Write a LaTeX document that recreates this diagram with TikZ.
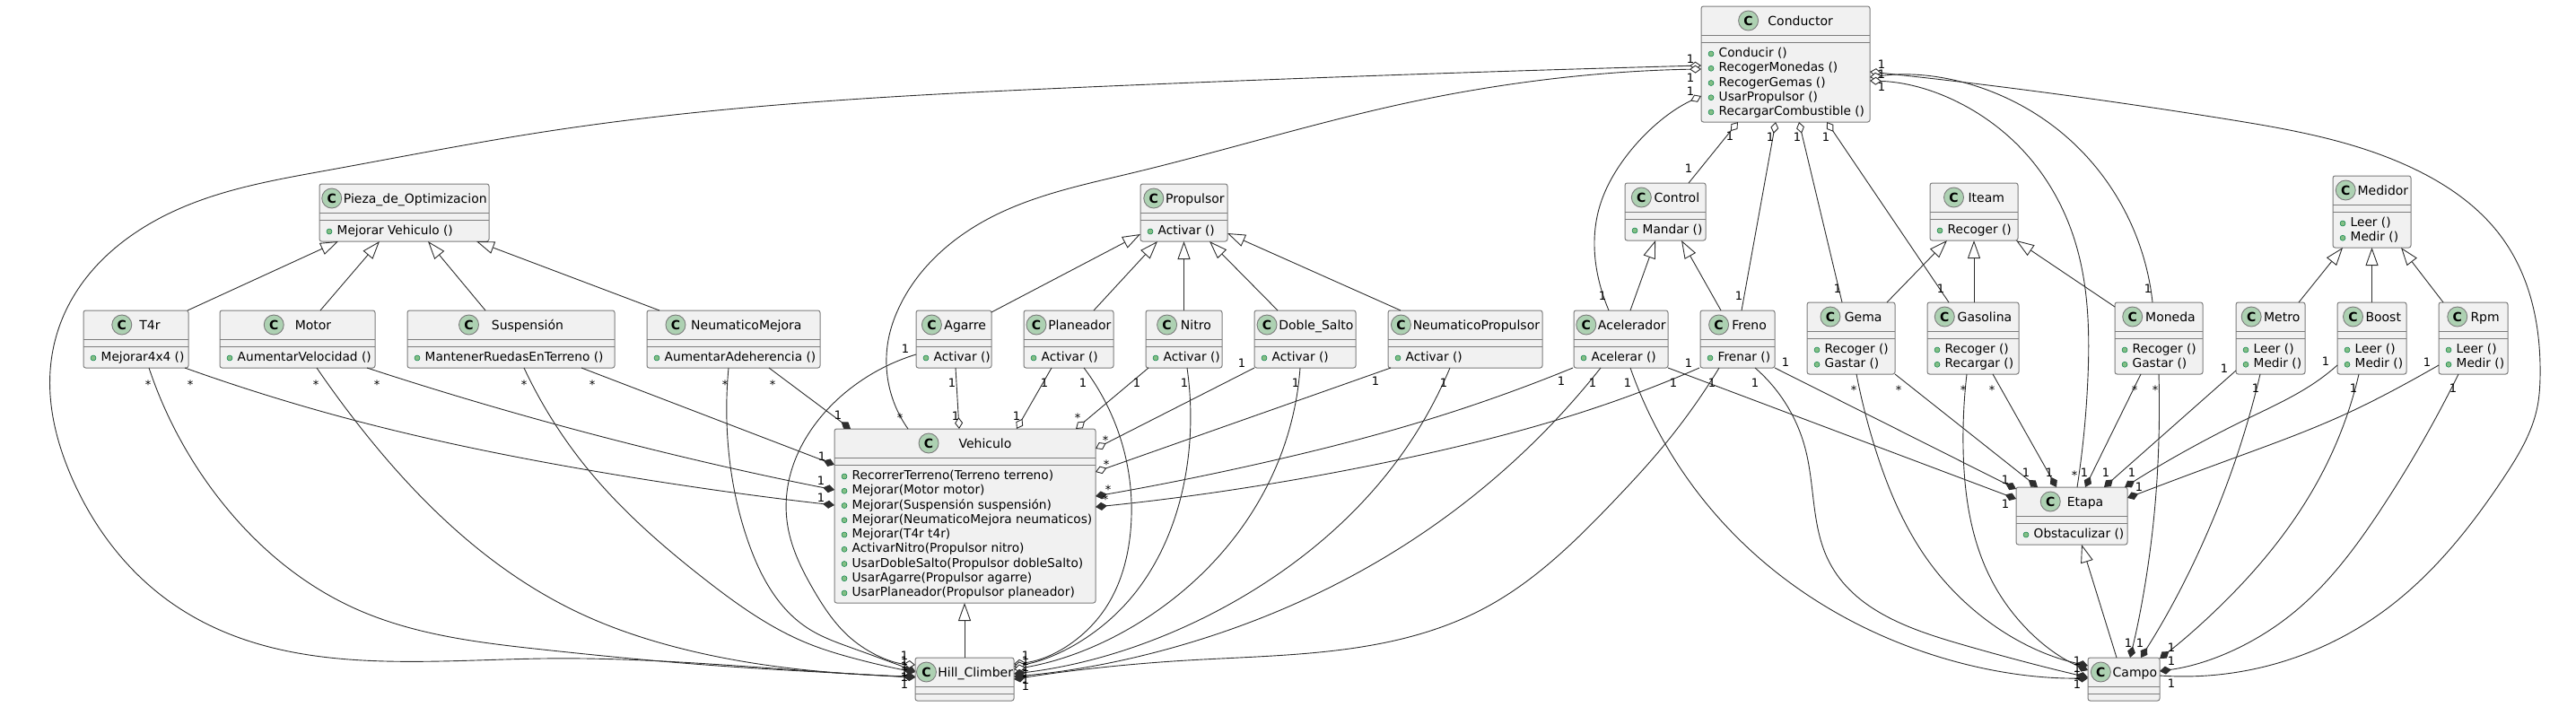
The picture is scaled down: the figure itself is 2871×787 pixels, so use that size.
\documentclass[tikz,border=0pt]{standalone}
\usepackage{fontspec}
\setmainfont{DejaVu Sans}
\usetikzlibrary{arrows.meta,positioning,hobby}

\definecolor{umlfill}{HTML}{F1F1F1}
\definecolor{umlline}{HTML}{7C7C7C}
\definecolor{umledge}{HTML}{2E2E2E}
\definecolor{umlbadgefill}{HTML}{ADD1B2}
\definecolor{umldotfill}{HTML}{84BE84}
\definecolor{umldotline}{HTML}{038048}

\tikzset{
  umlbox/.style={draw=umlline,fill=umlfill,line width=1pt,rounded corners=2.5pt,inner sep=0pt,outer sep=0pt},
  umlrule/.style={draw=umlline,line width=1pt},
  umlbadge/.style={circle,draw=umlline,fill=umlbadgefill,line width=0.9pt,minimum size=22pt,inner sep=0pt,font=\fontsize{14}{14}\selectfont\bfseries},
  umltitle/.style={inner sep=0pt,outer sep=0pt,text height=13pt,text depth=2.4pt,font=\fontsize{14}{14}\selectfont},
  umlrow/.style={inner sep=0pt,anchor=base west,font=\fontsize{13.7}{14}\selectfont},
  umldot/.style={circle,draw=umldotline,fill=umldotfill,line width=0.5pt,minimum size=6pt,inner sep=0pt},
  card/.style={inner sep=0pt,font=\fontsize{13}{13}\selectfont},
  cardstar/.style={card,yshift=-2.4pt},
  edge/.style={draw=umledge,line width=0.9pt},
  genedge/.style={edge,-{Triangle[fill=white,length=20pt,width=14pt]}},
  compedge/.style={edge,-{Diamond[fill=umledge,length=13pt,width=9pt]}},
  aggedge/.style={edge,-{Diamond[fill=white,length=13pt,width=9pt]}},
  aggstart/.style={edge,{Diamond[fill=white,length=13pt,width=9pt]}-},
  smoothed/.style={use Hobby shortcut}
}

\newlength\umltitlewd
% name, left, top, right, bottom, title
\newcommand{\umlclass}[6]{
  \node [umlbox,minimum width=#4-#2,minimum height=#5-#3] (#1) at ({(#2+#4)/2},{(#3+#5)/2}) {};
  \draw [umlrule] ([yshift=-32]#1.north west) -- ([yshift=-32]#1.north east);
  \draw [umlrule] ([yshift=-40]#1.north west) -- ([yshift=-40]#1.north east);
  \pgfinterruptpicture
    \settowidth{\umltitlewd}{\fontsize{14}{14}\selectfont #6}
    \global\umltitlewd=\umltitlewd
  \endpgfinterruptpicture
  \pgfmathsetmacro{\umlgap}{2+0.1*(#4-#2-32-\umltitlewd)}
  \pgfmathsetmacro{\umlhalf}{(22+\umlgap+\umltitlewd)/2}
  \node [umlbadge] (#1C) at ([shift={({11-\umlhalf},16)}]#1.north) {C};
  \node [umltitle,right=\umlgap pt of #1C] (#1T) {#6};
}
\newcommand{\umlmethods}[2]{
  \foreach \m [count=\i] in {#2} {
    \node [umldot] (#1D\i) at ([shift={(11,{53+16.25*(\i-1)})}]#1.north west) {};
    \node [umlrow] (#1R\i) at ([shift={(19.5,{56.5+16.25*(\i-1)})}]#1.north west) {\m};
  }
}

\begin{document}
\begin{tikzpicture}[x=1pt,y=-1pt]
    \useasboundingbox (0,0) rectangle (2871,787);

    % classes
    \umlclass{Conductor}{1896}{7}{2084}{136}{Conductor}
    \umlmethods{Conductor}{Conducir (),RecogerMonedas (),RecogerGemas (),UsarPropulsor (),RecargarCombustible ()}
    \umlclass{Pieza}{356}{205}{545}{269}{Pieza\_de\_Optimizacion}
    \umlmethods{Pieza}{Mejorar Vehiculo ()}
    \umlclass{Propulsor}{1271}{205}{1368}{269}{Propulsor}
    \umlmethods{Propulsor}{Activar ()}
    \umlclass{Control}{1811}{204}{1901}{268}{Control}
    \umlmethods{Control}{Mandar ()}
    \umlclass{Iteam}{2151}{204}{2249}{268}{Iteam}
    \umlmethods{Iteam}{Recoger ()}
    \umlclass{Medidor}{2600}{196}{2687}{276}{Medidor}
    \umlmethods{Medidor}{Leer (),Medir ()}
    \umlclass{T4r}{93}{346}{210}{410}{T4r}
    \umlmethods{T4r}{Mejorar4x4 ()}
    \umlclass{Motor}{245}{346}{418}{410}{Motor}
    \umlmethods{Motor}{AumentarVelocidad ()}
    \umlclass{Suspension}{454}{346}{685}{410}{Suspensión}
    \umlmethods{Suspension}{MantenerRuedasEnTerreno ()}
    \umlclass{NeumaticoMejora}{721}{346}{914}{410}{NeumaticoMejora}
    \umlmethods{NeumaticoMejora}{AumentarAdeherencia ()}
    \umlclass{Agarre}{1021}{346}{1105}{410}{Agarre}
    \umlmethods{Agarre}{Activar ()}
    \umlclass{Planeador}{1141}{346}{1241}{410}{Planeador}
    \umlmethods{Planeador}{Activar ()}
    \umlclass{Nitro}{1277}{346}{1362}{410}{Nitro}
    \umlmethods{Nitro}{Activar ()}
    \umlclass{DobleSalto}{1398}{346}{1511}{410}{Doble\_Salto}
    \umlmethods{DobleSalto}{Activar ()}
    \umlclass{NeumaticoPropulsor}{1547}{346}{1719}{410}{NeumaticoPropulsor}
    \umlmethods{NeumaticoPropulsor}{Activar ()}
    \umlclass{Acelerador}{1754}{346}{1859}{410}{Acelerador}
    \umlmethods{Acelerador}{Acelerar ()}
    \umlclass{Freno}{1895}{346}{1978}{410}{Freno}
    \umlmethods{Freno}{Frenar ()}
    \umlclass{Gema}{2014}{337}{2112}{417}{Gema}
    \umlmethods{Gema}{Recoger (),Gastar ()}
    \umlclass{Gasolina}{2148}{337}{2250}{417}{Gasolina}
    \umlmethods{Gasolina}{Recoger (),Recargar ()}
    \umlclass{Moneda}{2357}{337}{2455}{417}{Moneda}
    \umlmethods{Moneda}{Recoger (),Gastar ()}
    \umlclass{Metro}{2492}{337}{2569}{417}{Metro}
    \umlmethods{Metro}{Leer (),Medir ()}
    \umlclass{Boost}{2605}{337}{2682}{417}{Boost}
    \umlmethods{Boost}{Leer (),Medir ()}
    \umlclass{Rpm}{2718}{337}{2795}{417}{Rpm}
    \umlmethods{Rpm}{Leer (),Medir ()}
    \umlclass{Vehiculo}{930}{478}{1221}{672}{Vehiculo}
    \umlmethods{Vehiculo}{RecorrerTerreno(Terreno terreno),Mejorar(Motor motor),Mejorar(Suspensión suspensión),Mejorar(NeumaticoMejora neumaticos),Mejorar(T4r t4r),ActivarNitro(Propulsor nitro),UsarDobleSalto(Propulsor dobleSalto),UsarAgarre(Propulsor agarre),UsarPlaneador(Propulsor planeador)}
    \umlclass{Etapa}{2247}{543}{2371}{607}{Etapa}
    \umlmethods{Etapa}{Obstaculizar ()}
    \umlclass{HillClimber}{1020}{733}{1130}{781}{Hill\_Climber}
    \umlclass{Campo}{2327}{733}{2407}{781}{Campo}

    % generalizations
    \draw [genedge] (209,0 |- T4r.north) to (377,0 |- Pieza.south);
    \draw [genedge] (357,0 |- Motor.north) to (423,0 |- Pieza.south);
    \draw [genedge] (541,0 |- Suspension.north) to (477,0 |- Pieza.south);
    \draw [genedge] (735,0 |- NeumaticoMejora.north) to (531,0 |- Pieza.south);
    \draw [genedge] (Agarre.east |- 0,348) to (Propulsor.west |- 0,261);
    \draw [genedge] (1219,0 |- Planeador.north) to (1290,0 |- Propulsor.south);
    \draw [genedge] (Nitro.north -| Propulsor.south) to (Propulsor.south);
    \draw [genedge] (1424,0 |- DobleSalto.north) to (1348,0 |- Propulsor.south);
    \draw [genedge] (1561,0 |- NeumaticoPropulsor.north) to (Propulsor.east |- 0,260);
    \draw [genedge] (HillClimber.north) to (Vehiculo.south -| HillClimber.north);
    \draw [genedge] (1817,0 |- Acelerador.north) to (1845,0 |- Control.south);
    \draw [genedge] (1918,0 |- Freno.north) to (1874,0 |- Control.south);
    \draw [genedge] (2103,0 |- Gema.north) to (2170,0 |- Iteam.south);
    \draw [genedge] (2200,0 |- Gasolina.north) to (2200,0 |- Iteam.south);
    \draw [genedge] (Moneda.west |- 0,342) to (2247,0 |- Iteam.south);
    \draw [genedge] (2562,0 |- Metro.north) to (2611,0 |- Medidor.south);
    \draw [genedge] (Boost.north) to (Medidor.south);
    \draw [genedge] (2723,0 |- Rpm.north) to (2676,0 |- Medidor.south);
    \draw [genedge] (2359,0 |- Campo.north) to (2320,0 |- Etapa.south);

    % parts of the vehicle
    \draw [compedge,smoothed] (206,0 |- T4r.south) .. (393,468) .. (656,524) .. (Vehiculo.west |- 0,563);
    \draw [compedge,smoothed] (409,0 |- Motor.south) .. (623,474) .. (Vehiculo.west |- 0,546);
    \draw [compedge] (648,0 |- Suspension.south) to (Vehiculo.west |- 0,518);
    \draw [compedge] (857,0 |- NeumaticoMejora.south) to (948,0 |- Vehiculo.north);
    \draw [aggedge] (1065,0 |- Agarre.south) to (1069,0 |- Vehiculo.north);
    \draw [aggedge] (1172,0 |- Planeador.south) to (1133,0 |- Vehiculo.north);
    \draw [aggedge] (1280,0 |- Nitro.south) to (1199,0 |- Vehiculo.north);
    \draw [aggedge] (DobleSalto.south west) to (Vehiculo.east |- 0,500);
    \draw [aggedge] (1550,0 |- NeumaticoPropulsor.south) to (Vehiculo.east |- 0,526);
    \draw [compedge,smoothed] (1753,0 |- Acelerador.south) .. (1584,470) .. (1420,513) .. (Vehiculo.east |- 0,553);
    \draw [compedge,smoothed] (1894,0 |- Freno.south) .. (1800,447) .. (1556,513) .. (Vehiculo.east |- 0,565);

    % into Hill_Climber, left
    \draw [compedge,smoothed] (166,0 |- T4r.south) .. (242,553) .. (393,677) .. (605,724) .. (786,741) .. (949,751) .. (HillClimber.west |- 0,755);
    \draw [compedge,smoothed] (353,0 |- Motor.south) .. (396,469) .. (641,681) .. (756,722) .. (949,751) .. (HillClimber.west |- 0,754);
    \draw [compedge,smoothed] (584,0 |- Suspension.south) .. (656,524) .. (786,646) .. (900,717) .. (949,733) .. (HillClimber.west |- 0,749);
    \draw [compedge,smoothed] (812,0 |- NeumaticoMejora.south) .. (812,502) .. (835,607) .. (900,700) .. (949,722) .. (HillClimber.west |- 0,748);
    \draw [aggedge,smoothed] (Agarre.west |- 0,395) .. (949,432) .. (877,580) .. (907,658) .. (949,712) .. (HillClimber.west |- 0,741);
    \draw [aggstart,smoothed] (Conductor.west |- 0,73) .. (1212,97) .. (606,147) .. (364,190) .. (206,230) .. (73,347) .. (56,413) .. (79,530) .. (200,678) .. (605,734) .. (949,751) .. (HillClimber.west |- 0,755);

    % into Hill_Climber, right
    \draw [aggedge,smoothed] (1208,0 |- Planeador.south) .. (1260,592) .. (1227,685) .. (HillClimber.east |- 0,740);
    \draw [aggedge,smoothed] (1323,0 |- Nitro.south) .. (1326,491) .. (1311,572) .. (1251,677) .. (HillClimber.east |- 0,743);
    \draw [aggedge,smoothed] (1449,0 |- DobleSalto.south) .. (1426,511) .. (1336,643) .. (HillClimber.east |- 0,746);
    \draw [compedge,smoothed] (1616,0 |- NeumaticoPropulsor.south) .. (1556,515) .. (1414,647) .. (HillClimber.east |- 0,751);
    \draw [compedge,smoothed] (1784,0 |- Acelerador.south) .. (1577,600) .. (1384,697) .. (HillClimber.east |- 0,754);
    \draw [compedge,smoothed] (1916,0 |- Freno.south) .. (1849,503) .. (1800,557) .. (1656,677) .. (1323,736) .. (HillClimber.east |- 0,757);

    % conductor
    \draw [aggstart,smoothed] (Conductor.west |- 0,77) .. (1576,113) .. (1261,193) .. (1103,243) .. (1000,347) .. (991,374) .. (1012,0 |- Vehiculo.north);
    \draw [aggstart,smoothed] (Conductor.west |- 0,107) .. (1806,183) .. (1782,233) .. (1788,333) .. (1793,0 |- Acelerador.north);
    \draw [aggstart] (1937,0 |- Conductor.south) to (1882,0 |- Control.north);
    \draw [aggstart] (1979,0 |- Conductor.south) to (1941,0 |- Freno.north);
    \draw [aggstart] (2005,0 |- Conductor.south) to (2053,0 |- Gema.north);
    \draw [aggstart] (2036,0 |- Conductor.south) to (2172,0 |- Gasolina.north);
    \draw [aggstart,smoothed] (Conductor.east |- 0,80) .. (2483,133) .. (2688,187) .. (2790,267) .. (2831,420) .. (2828,453) .. (2790,533) .. (2654,683) .. (Campo.east |- 0,753);
    \draw [aggstart,smoothed] (Conductor.east |- 0,86) .. (2278,133) .. (2367,233) .. (2399,0 |- Moneda.north);
    \draw [aggstart,smoothed] (Conductor.east |- 0,90) .. (2244,157) .. (2312,267) .. (2327,420) .. (2315,0 |- Etapa.north);

    % into Etapa
    \draw [compedge] (1859,0 |- Acelerador.south) to (Etapa.west |- 0,556);
    \draw [compedge] (Freno.south east) to (Etapa.west |- 0,545);
    \draw [compedge] (Gema.south east) to (2271,0 |- Etapa.north);
    \draw [compedge] (2221,0 |- Gasolina.south) to (2292,0 |- Etapa.north);
    \draw [compedge] (2386,0 |- Moneda.south) to (2324,0 |- Etapa.north);
    \draw [compedge] (Metro.west |- 0,413) to (2345,0 |- Etapa.north);
    \draw [compedge,smoothed] (Boost.west |- 0,407) .. (2585,423) .. (2504,467) .. (2368,0 |- Etapa.north);
    \draw [compedge,smoothed] (Rpm.west |- 0,407) .. (2695,420) .. (2613,462) .. (2483,513) .. (Etapa.east |- 0,555);

    % into Campo
    \draw [compedge,smoothed] (2069,0 |- Gema.south) .. (2090,500) .. (2155,633) .. (Campo.west |- 0,742);
    \draw [compedge,smoothed] (2192,0 |- Gasolina.south) .. (2188,500) .. (2223,653) .. (Campo.west |- 0,747);
    \draw [compedge,smoothed] (1956,0 |- Freno.south) .. (2012,500) .. (2039,627) .. (2182,717) .. (Campo.west |- 0,755);
    \draw [compedge,smoothed] (1817,0 |- Acelerador.south) .. (1841,467) .. (1937,600) .. (2094,707) .. (Campo.west |- 0,756);
    \draw [compedge,smoothed] (2406,0 |- Moneda.south) .. (2406,490) .. (2398,600) .. (2374,0 |- Campo.north);
    \draw [compedge,smoothed] (2519,0 |- Metro.south) .. (2490,517) .. (2386,0 |- Campo.north);
    \draw [compedge,smoothed] (2629,0 |- Boost.south) .. (2585,533) .. (2483,667) .. (Campo.east |- 0,734);
    \draw [compedge,smoothed] (2740,0 |- Rpm.south) .. (2654,567) .. (2551,687) .. (Campo.east |- 0,748);

    % multiplicities, left part
    \node [cardstar] (c1) at (212,426) {*};
    \node [card] (c2) at (915,555) {1};
    \node [cardstar] (c3) at (420,426) {*};
    \node [card] (c4) at (915,536) {1};
    \node [cardstar] (c5) at (660,426) {*};
    \node [card] (c6) at (916,509) {1};
    \node [cardstar] (c7) at (861,426) {*};
    \node [card] (c8) at (934,463) {1};
    \node [cardstar] (c9) at (165,426) {*};
    \node [cardstar] (c10) at (352,426) {*};
    \node [cardstar] (c11) at (584,426) {*};
    \node [cardstar] (c12) at (808,426) {*};
    \node [card] (c13) at (1009,389) {1};
    \node [card] (c14) at (1061,427) {1};
    \node [card] (c15) at (1065,464) {1};
    \node [card] (c16) at (1164,427) {1};
    \node [card] (c17) at (1133,464) {1};
    \node [card] (c18) at (1207,427) {1};
    \node [card] (c19) at (1267,427) {1};
    \node [cardstar] (c20) at (1201,463) {*};
    \node [card] (c21) at (1320,427) {1};
    \node [card] (c22) at (1384,405) {1};
    \node [cardstar] (c23) at (1232,488) {*};
    \node [card] (c24) at (1444,427) {1};
    \node [card] (c25) at (1533,425) {1};
    \node [cardstar] (c26) at (1233,515) {*};
    \node [card] (c27) at (1609,427) {1};
    \node [card] (c28) at (1740,425) {1};
    \node [cardstar] (c29) at (1235,543) {*};
    \node [card] (c30) at (1775,427) {1};
    \node [card] (c31) at (1814,427) {1};
    \node [card] (c32) at (1882,405) {1};
    \node [card] (c33) at (2235,562) {1};
    \node [card] (c34) at (1865,427) {1};
    \node [cardstar] (c35) at (1232,554) {*};
    \node [card] (c36) at (1908,427) {1};
    \node [card] (c37) at (1956,427) {1};
    \node [card] (c38) at (1990,404) {1};
    \node [card] (c39) at (2235,535) {1};
    \node [cardstar] (c40) at (1003,463) {*};

    % multiplicities, around the conductor
    \node [card] (c41) at (1884,66) {1};
    \node [card] (c42) at (1884,87) {1};
    \node [card] (c43) at (1884,102) {1};
    \node [card] (c44) at (1786,330) {1};
    \node [card] (c45) at (1928,152) {1};
    \node [card] (c46) at (1882,188) {1};
    \node [card] (c47) at (1973,153) {1};
    \node [card] (c48) at (1938,330) {1};
    \node [card] (c49) at (2003,153) {1};
    \node [card] (c50) at (2048,322) {1};
    \node [card] (c51) at (2035,153) {1};
    \node [card] (c52) at (2163,322) {1};
    \node [card] (c53) at (2097,72) {1};
    \node [card] (c54) at (2097,83) {1};
    \node [card] (c55) at (2097,97) {1};
    \node [card] (c56) at (2420,762) {1};
    \node [card] (c57) at (2394,322) {1};
    \node [cardstar] (c58) at (2312,527) {*};

    % multiplicities, right part
    \node [cardstar] (c59) at (2116,432) {*};
    \node [card] (c60) at (2258,527) {1};
    \node [cardstar] (c61) at (2066,432) {*};
    \node [card] (c62) at (2315,737) {1};
    \node [cardstar] (c63) at (2220,432) {*};
    \node [card] (c64) at (2284,527) {1};
    \node [cardstar] (c65) at (2188,432) {*};
    \node [card] (c66) at (2315,745) {1};
    \node [cardstar] (c67) at (2379,432) {*};
    \node [card] (c68) at (2323,527) {1};
    \node [cardstar] (c69) at (2402,432) {*};
    \node [card] (c70) at (2372,717) {1};
    \node [card] (c71) at (2479,411) {1};
    \node [card] (c72) at (2347,527) {1};
    \node [card] (c73) at (2514,433) {1};
    \node [card] (c74) at (2385,717) {1};
    \node [card] (c75) at (2592,403) {1};
    \node [card] (c76) at (2376,527) {1};
    \node [card] (c77) at (2623,433) {1};
    \node [card] (c78) at (2420,722) {1};
    \node [card] (c79) at (2705,404) {1};
    \node [card] (c80) at (2384,543) {1};
    \node [card] (c81) at (2734,433) {1};
    \node [card] (c82) at (2420,737) {1};
    \node [card] (c83) at (2315,763) {1};
    \node [card] (c84) at (2315,753) {1};

    % multiplicities at Hill_Climber
    \node [card] (c85) at (1008,731) {1};
    \node [card] (c86) at (1008,737) {1};
    \node [card] (c87) at (1008,743) {1};
    \node [card] (c88) at (1008,749) {1};
    \node [card] (c89) at (1008,755) {1};
    \node [card] (c90) at (1008,763) {1};
    \node [card] (c91) at (1143,731) {1};
    \node [card] (c92) at (1143,737) {1};
    \node [card] (c93) at (1143,744) {1};
    \node [card] (c94) at (1143,751) {1};
    \node [card] (c95) at (1143,758) {1};
    \node [card] (c96) at (1143,765) {1};
\end{tikzpicture}
\end{document}
